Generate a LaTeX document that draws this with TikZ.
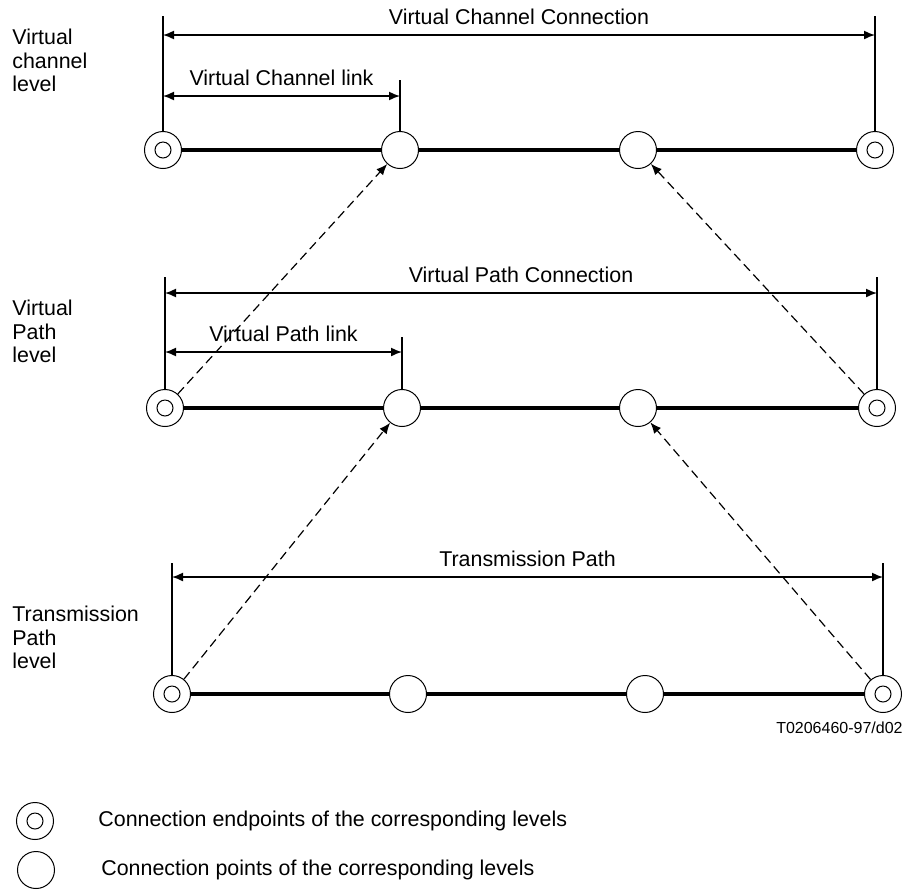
\documentclass[tikz,border=0pt]{standalone}
\usepackage{fontspec}
\setmainfont{Liberation Sans}
\usetikzlibrary{arrows.meta, positioning}

\begin{document}
\begin{tikzpicture}[x=0.5pt, y=-0.5pt,
        font=\fontsize{10.7}{11.6}\selectfont,
        cpt/.style={circle, draw, line width=0.5pt, fill=white, minimum size=18.5pt, inner sep=0pt},
        endpt/.style={cpt, path picture={\draw[line width=0.5pt] (path picture bounding box.center) circle (4pt);}},
        link/.style={line width=1.6pt},
        tick/.style={line width=0.75pt},
        dim/.style={line width=0.75pt, {Latex[length=5.5pt,width=4.5pt]}-{Latex[length=5.5pt,width=4.5pt]}},
        map/.style={line width=0.6pt, dash pattern=on 4.5pt off 2.5pt, -{Latex[length=5.5pt,width=4.5pt]}},
        level/.style={align=left, anchor=north west, inner sep=0pt},
        dimlabel/.style={above=5pt, inner sep=0pt}]
        \useasboundingbox (0,0) rectangle (906,891);

        % virtual channel level
        \node[level] (vclev) at (12,29) {Virtual\\channel\\level};
        \node[endpt] (vc0) at (163,150) {};
        \node[cpt] (vc1) at (400,150) {};
        \node[cpt] (vc2) at (638,150) {};
        \node[endpt] (vc3) at (875,150) {};
        \draw[link] (vc0) -- (vc1) -- (vc2) -- (vc3);
        \coordinate (vctop) at (0,16);
        \coordinate (vcltop) at (0,80);
        \draw[tick] (vc0) -- (vc0 |- vctop);
        \draw[tick] (vc3) -- (vc3 |- vctop);
        \draw[tick] (vc1) -- (vc1 |- vcltop);
        \coordinate (vccy) at (0,35);
        \coordinate (vcly) at (0,96);
        \draw[dim] (vc0 |- vccy) -- node[dimlabel]{Virtual Channel Connection} (vc3 |- vccy);
        \draw[dim] (vc0 |- vcly) -- node[dimlabel]{Virtual Channel link} (vc1 |- vcly);

        % virtual path level
        \node[level] (vplev) at (12,300) {Virtual\\Path\\level};
        \node[endpt] (vp0) at (165,408) {};
        \node[cpt] (vp1) at (402,408) {};
        \node[cpt] (vp2) at (638,408) {};
        \node[endpt] (vp3) at (877,408) {};
        \draw[link] (vp0) -- (vp1) -- (vp2) -- (vp3);
        \coordinate (vptop) at (0,277);
        \coordinate (vpltop) at (0,337);
        \draw[tick] (vp0) -- (vp0 |- vptop);
        \draw[tick] (vp3) -- (vp3 |- vptop);
        \draw[tick] (vp1) -- (vp1 |- vpltop);
        \coordinate (vpcy) at (0,293);
        \coordinate (vply) at (0,352);
        \draw[dim] (vp0 |- vpcy) -- node[dimlabel]{Virtual Path Connection} (vp3 |- vpcy);
        \draw[dim] (vp0 |- vply) -- node[dimlabel]{Virtual Path link} (vp1 |- vply);

        % transmission path level
        \node[level] (tplev) at (12,606) {Transmission\\Path\\level};
        \node[endpt] (tp0) at (172,694) {};
        \node[cpt] (tp1) at (408,694) {};
        \node[cpt] (tp2) at (645,694) {};
        \node[endpt] (tp3) at (883,694) {};
        \draw[link] (tp0) -- (tp1) -- (tp2) -- (tp3);
        \coordinate (tptop) at (0,563);
        \draw[tick] (tp0) -- (tp0 |- tptop);
        \draw[tick] (tp3) -- (tp3 |- tptop);
        \coordinate (tpy) at (0,577);
        \draw[dim] (tp0 |- tpy) -- node[dimlabel]{Transmission Path} (tp3 |- tpy);

        % mapping between levels
        \draw[map] (vp0) -- (vc1);
        \draw[map] (vp3) -- (vc2);
        \draw[map] (tp0) -- (vp1);
        \draw[map] (tp3) -- (vp2);

        \node[anchor=base east, inner sep=0pt, font=\fontsize{8}{9.6}\selectfont] (figid) at (903,733) {T0206460-97/d02};

        % key
        \node[endpt] (keyend) at (35,821) {};
        \node[cpt] (keypt) at (36,870) {};
        \node[right=22pt of keyend, inner sep=0pt] (keyendtxt) {Connection endpoints of the corresponding levels};
        \node[right=23pt of keypt, inner sep=0pt] (keypttxt) {Connection points of the corresponding levels};
    \end{tikzpicture}
\end{document}
